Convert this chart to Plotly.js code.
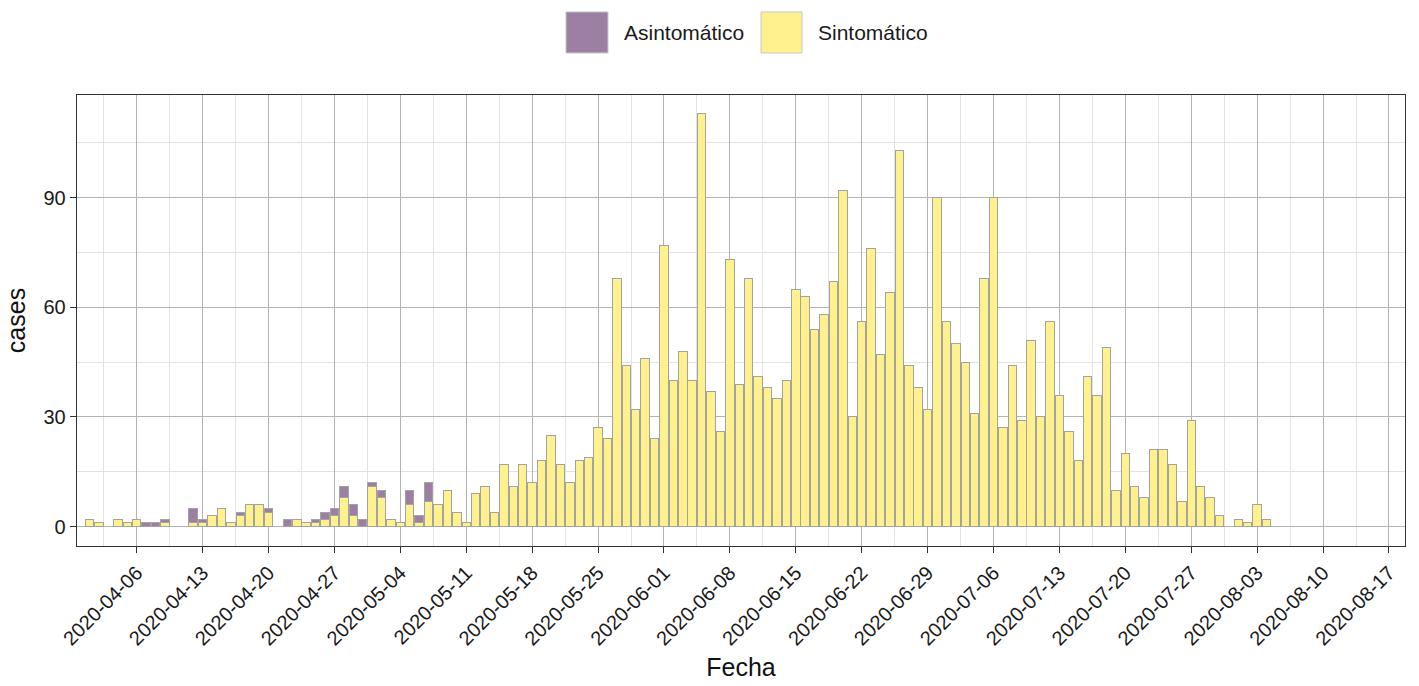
<!DOCTYPE html>
<html>
<head>
<meta charset="utf-8">
<script src="https://cdn.plot.ly/plotly-3.0.1.min.js"></script>
<style>html,body{margin:0;padding:0;background:#fff;}#chart{width:1419px;height:686px;}</style>
</head>
<body>
<div id="chart"></div>
<script>
const fechas = [
"2020-04-01","2020-04-02","2020-04-03","2020-04-04","2020-04-05","2020-04-06","2020-04-07","2020-04-08","2020-04-09","2020-04-10",
"2020-04-11","2020-04-12","2020-04-13","2020-04-14","2020-04-15","2020-04-16","2020-04-17","2020-04-18","2020-04-19","2020-04-20",
"2020-04-21","2020-04-22","2020-04-23","2020-04-24","2020-04-25","2020-04-26","2020-04-27","2020-04-28","2020-04-29","2020-04-30",
"2020-05-01","2020-05-02","2020-05-03","2020-05-04","2020-05-05","2020-05-06","2020-05-07","2020-05-08","2020-05-09","2020-05-10",
"2020-05-11","2020-05-12","2020-05-13","2020-05-14","2020-05-15","2020-05-16","2020-05-17","2020-05-18","2020-05-19","2020-05-20",
"2020-05-21","2020-05-22","2020-05-23","2020-05-24","2020-05-25","2020-05-26","2020-05-27","2020-05-28","2020-05-29","2020-05-30",
"2020-05-31","2020-06-01","2020-06-02","2020-06-03","2020-06-04","2020-06-05","2020-06-06","2020-06-07","2020-06-08","2020-06-09",
"2020-06-10","2020-06-11","2020-06-12","2020-06-13","2020-06-14","2020-06-15","2020-06-16","2020-06-17","2020-06-18","2020-06-19",
"2020-06-20","2020-06-21","2020-06-22","2020-06-23","2020-06-24","2020-06-25","2020-06-26","2020-06-27","2020-06-28","2020-06-29",
"2020-06-30","2020-07-01","2020-07-02","2020-07-03","2020-07-04","2020-07-05","2020-07-06","2020-07-07","2020-07-08","2020-07-09",
"2020-07-10","2020-07-11","2020-07-12","2020-07-13","2020-07-14","2020-07-15","2020-07-16","2020-07-17","2020-07-18","2020-07-19",
"2020-07-20","2020-07-21","2020-07-22","2020-07-23","2020-07-24","2020-07-25","2020-07-26","2020-07-27","2020-07-28","2020-07-29",
"2020-07-30","2020-07-31","2020-08-01","2020-08-02","2020-08-03","2020-08-04"
];
// Sintomático cases per day (0 = no bar)
const sintomatico = [
2,1,0,2,1,2,0,0,1,0,
0,1,1,3,5,1,3,6,6,4,
0,0,2,1,1,2,3,8,3,0,
11,8,2,1,6,1,7,6,10,4,
1,9,11,4,17,11,17,12,18,25,
17,12,18,19,27,24,68,44,32,46,
24,77,40,48,40,113,37,26,73,39,
68,41,38,35,40,65,63,54,58,67,
92,30,56,76,47,64,103,44,38,32,
90,56,50,45,31,68,90,27,44,29,
51,30,56,36,26,18,41,36,49,10,
20,11,8,21,21,17,7,29,11,8,
3,0,2,1,6,2
];
// Asintomático cases per day
const asintomatico = [
0,0,0,0,0,0,1,1,1,0,
0,4,1,0,0,0,1,0,0,1,
0,2,0,0,1,2,2,3,3,2,
1,2,0,0,4,2,5,0,0,0,
0,0,0,0,0,0,0,0,0,0,
0,0,0,0,0,0,0,0,0,0,
0,0,0,0,0,0,0,0,0,0,
0,0,0,0,0,0,0,0,0,0,
0,0,0,0,0,0,0,0,0,0,
0,0,0,0,0,0,0,0,0,0,
0,0,0,0,0,0,0,0,0,0,
0,0,0,0,0,0,0,0,0,0,
0,0,0,0,0,0
];
const serieNombres = ["Asintomático", "Sintomático"];
const colores = {"Asintomático": "#9c7fa3", "Sintomático": "#fff18e"};

const nz = arr => arr.map(v => v === 0 ? null : v);
const DAY = 86400000;

const traces = [
  {type: "bar", name: "Sintomático", x: fechas, y: nz(sintomatico), width: 0.9 * DAY,
   marker: {color: colores["Sintomático"], line: {color: "#a3a3a3", width: 1}}, showlegend: false},
  {type: "bar", name: "Asintomático", x: fechas, y: nz(asintomatico), width: 0.9 * DAY,
   marker: {color: colores["Asintomático"], line: {color: "#a3a3a3", width: 1}}, showlegend: false}
];

// custom legend (large keys like the reference)
const L = 77, R = 1405, T = 95, B = 545.7;
const px = v => (v - L) / (R - L);
const py = v => (B - v) / (B - T);
const legendKeys = [
  {name: serieNombres[0], x0: 566, x1: 608, tx: 622},
  {name: serieNombres[1], x0: 761, x1: 802, tx: 816}
];
const shapes = legendKeys.map(k => ({
  type: "rect", xref: "paper", yref: "paper",
  x0: px(k.x0), x1: px(k.x1), y0: py(53), y1: py(12),
  fillcolor: colores[k.name], line: {color: "#c8c8c8", width: 1}
}));
const annotations = legendKeys.map(k => ({
  xref: "paper", yref: "paper", x: px(k.tx), y: py(33),
  xanchor: "left", yanchor: "middle", showarrow: false,
  text: k.name, font: {size: 21, color: "#1a1a1a", family: "Liberation Sans, Arial, sans-serif"}
}));

const layout = {
  width: 1419, height: 686,
  margin: {l: L, r: 1419 - R, t: T, b: 686 - B},
  paper_bgcolor: "#ffffff", plot_bgcolor: "#ffffff",
  font: {family: "Liberation Sans, Arial, sans-serif", color: "#1a1a1a"},
  barmode: "stack", bargap: 0,
  showlegend: false,
  xaxis: {
    type: "date",
    range: ["2020-03-30 15:50", "2020-08-18 16:50"],
    tick0: "2020-04-06", dtick: 7 * DAY, tickformat: "%Y-%m-%d",
    tickangle: -45, tickfont: {size: 20, color: "#1a1a1a"},
    ticks: "outside", ticklen: 6, tickwidth: 1, tickcolor: "#333333",
    showline: true, mirror: true, linecolor: "#333333", linewidth: 1.3,
    showgrid: true, gridcolor: "#b3b3b3", gridwidth: 1,
    minor: {tick0: "2020-04-02 12:00", dtick: 3.5 * DAY, showgrid: true, gridcolor: "#e3e3e3", gridwidth: 1, ticks: ""},
    zeroline: false,
    title: {text: "Fecha", font: {size: 25, color: "#111111"}, standoff: 10}
  },
  yaxis: {
    range: [-5.3, 118.1],
    tick0: 0, dtick: 30, tickfont: {size: 20, color: "#1a1a1a"},
    ticks: "outside", ticklen: 6, tickwidth: 1, tickcolor: "#333333",
    showline: true, mirror: true, linecolor: "#333333", linewidth: 1.3,
    showgrid: true, gridcolor: "#b3b3b3", gridwidth: 1,
    minor: {tick0: 15, dtick: 30, showgrid: true, gridcolor: "#e3e3e3", gridwidth: 1, ticks: ""},
    zeroline: false,
    title: {text: "cases", font: {size: 25, color: "#111111"}, standoff: 10}
  },
  shapes: shapes,
  annotations: annotations
};

Plotly.newPlot("chart", traces, layout, {staticPlot: true, displayModeBar: false});
</script>
</body>
</html>
